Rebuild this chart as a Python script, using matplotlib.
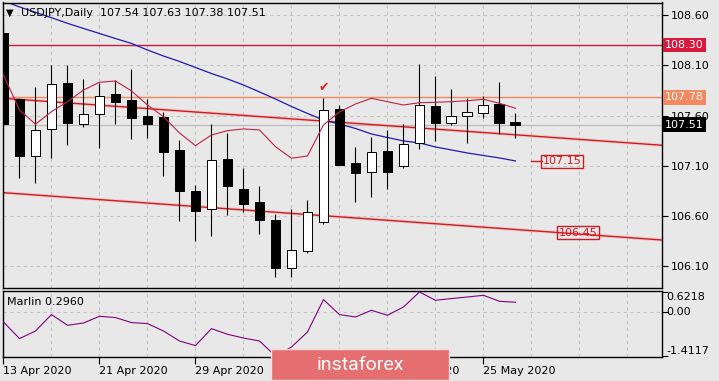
# USDJPY daily chart with Marlin oscillator
import numpy as np
import matplotlib.pyplot as plt
from matplotlib.patches import Rectangle

# %%
# candle data (bar 0 = 13 Apr 2020)
opens = [108.42, 107.765, 107.195, 107.464, 107.924, 107.519, 107.619, 107.812, 107.755, 107.593,
         107.583, 107.258, 106.85, 106.669, 107.169, 106.87, 106.741, 106.559, 106.082, 106.251,
         106.539, 107.663, 107.126, 107.036, 107.248, 107.102, 107.325, 107.695, 107.523, 107.599,
         107.623, 107.712, 107.54]
highs = [108.55, 107.775, 107.884, 108.103, 108.103, 107.964, 107.927, 107.951, 108.06, 107.765,
         107.633, 107.357, 106.91, 107.517, 107.427, 107.082, 106.90, 106.619, 106.672, 106.761,
         107.772, 107.705, 107.288, 107.387, 107.457, 107.517, 108.113, 107.994, 107.864, 107.772,
         107.792, 107.934, 107.63]
lows = [107.487, 106.983, 106.933, 107.176, 107.311, 107.484, 107.281, 107.519, 107.364, 107.38,
        107.003, 106.555, 106.356, 106.406, 106.612, 106.645, 106.42, 105.993, 105.993, 106.231,
        106.519, 107.104, 106.744, 106.788, 106.867, 107.076, 107.271, 107.348, 107.509, 107.331,
        107.579, 107.417, 107.38]
closes = [107.517, 107.201, 107.454, 107.911, 107.529, 107.613, 107.792, 107.738, 107.579, 107.514,
          107.241, 106.853, 106.655, 107.159, 106.903, 106.724, 106.565, 106.088, 106.261, 106.645,
          107.653, 107.112, 107.026, 107.235, 107.042, 107.315, 107.705, 107.529, 107.593, 107.636,
          107.702, 107.529, 107.51]

# moving averages
ma_slow = [108.74, 108.68, 108.626, 108.573, 108.517, 108.466, 108.416, 108.366, 108.317, 108.252,
           108.192, 108.138, 108.078, 108.018, 107.964, 107.904, 107.835, 107.765, 107.69, 107.621,
           107.556, 107.516, 107.472, 107.417, 107.382, 107.348, 107.328, 107.288, 107.258, 107.228,
           107.203, 107.179, 107.149]
ma_fast = [108.003, 107.656, 107.514, 107.639, 107.738, 107.854, 107.931, 107.944, 107.845, 107.705,
           107.589, 107.427, 107.301, 107.407, 107.45, 107.467, 107.457, 107.291, 107.176, 107.198,
           107.507, 107.636, 107.715, 107.772, 107.738, 107.705, 107.728, 107.732, 107.738, 107.748,
           107.762, 107.722, 107.673]

# Marlin oscillator
marlin = [-0.33, -0.857, -0.616, -0.095, -0.435, -0.362, -0.149, -0.19, -0.349, -0.381,
          -0.616, -0.933, -1.079, -0.54, -0.721, -0.838, -0.933, -1.4117, -1.124, -0.648,
          0.381, -0.095, -0.171, 0.041, -0.117, 0.146, 0.6218, 0.359, 0.413, 0.463,
          0.517, 0.327, 0.296]

# levels and trend lines (bar, price)
level_red = 108.30
level_orange = 107.78
last_price = 107.51
trend_upper = [(-0.05, 107.772), (41.16, 107.305)]
trend_lower = [(-0.05, 106.834), (41.16, 106.363)]
price_ticks = [108.60, 108.10, 107.60, 107.10, 106.60, 106.10]
date_pos = [0, 6, 12, 18, 24, 30]
date_labels = ['13 Apr 2020', '21 Apr 2020', '29 Apr 2020', '7 May 2020', '15 May 2020', '25 May 2020']

# %%
W, H = 719, 381
bg = '#e8e8e8'
fig = plt.figure(figsize=(W / 100, H / 100), dpi=100, facecolor=bg)
plt.rcParams['font.family'] = ['DejaVu Sans']

def px_axes(x0, y0, x1, y1):
    # axes from pixel box (top-left origin)
    return fig.add_axes([x0 / W, 1 - y1 / H, (x1 - x0) / W, (y1 - y0) / H])

ax = px_axes(2.7, 2.5, 662, 288)
ax2 = px_axes(2.7, 290.7, 662, 357.3)
xlim = (-0.05, 41.16)

for a in (ax, ax2):
    a.set_facecolor(bg)
    a.set_xlim(*xlim)
    for s in a.spines.values():
        s.set_color('black')
        s.set_linewidth(1.0)
    # vertical grid every 3 bars
    for gx in range(3, 41, 3):
        a.axvline(gx, color='#c4c4c4', lw=0.8, ls=(0, (3, 3)), zorder=0)

# %% main panel
ax.set_ylim(105.886, 108.724)
for p in price_ticks:
    ax.axhline(p, color='#c4c4c4', lw=0.8, ls=(0, (3, 3)), zorder=0)

ax.axhline(level_red, color='#c8193c', lw=1.0, zorder=1)
ax.axhline(level_orange, color='#f08a5d', lw=1.0, zorder=1)
ax.axhline(last_price, color='#b8b8b8', lw=0.8, zorder=1)

# trend lines with soft glow
for tl in (trend_upper, trend_lower):
    xs = [tl[0][0], tl[1][0]]
    ys = [tl[0][1], tl[1][1]]
    ax.plot(xs, ys, color='#ffa0a0', lw=2.6, alpha=0.35, zorder=1)
    ax.plot(xs, ys, color='#cc1c22', lw=1.0, zorder=2)

bars = np.arange(len(opens))
ax.plot(bars, ma_slow, color='#1c1cb0', lw=0.9, zorder=2)
ax.plot(bars, ma_fast, color='#c0204a', lw=0.8, zorder=4)

# candles
for i in bars:
    o, h, l, c = opens[i], highs[i], lows[i], closes[i]
    ax.vlines(i, l, h, color='black', lw=0.8, zorder=3)
    fc = 'white' if c >= o else 'black'
    ax.bar(i, abs(c - o), bottom=min(o, c), width=0.62, color=fc,
           edgecolor='black', linewidth=0.7, zorder=3)

# check mark above the big white candle
ax.text(20, 107.884, '\u2714', color='#e02020', fontsize=9, ha='center', va='center', zorder=5)

# labels on the trend lines
ax.plot([33.0, 33.65], [107.144, 107.144], color='#cc1c22', lw=1.0, zorder=4)
ax.text(34.9, 107.144, '107.15', color='#cc1c22', fontsize=8, ha='center', va='center', zorder=5,
        bbox=dict(boxstyle='square,pad=0.12', fc='none', ec='#cc1c22', lw=1.0))
ax.text(35.9, 106.436, '106.45', color='#cc1c22', fontsize=8, ha='center', va='center', zorder=5,
        bbox=dict(boxstyle='square,pad=0.12', fc='none', ec='#cc1c22', lw=1.0))

# right price scale
ax.yaxis.tick_right()
ax.set_yticks(price_ticks)
ax.set_yticklabels(['%.2f' % p for p in price_ticks], fontsize=8)
ax.tick_params(axis='y', direction='out', length=4, width=0.8, pad=2)
ax.set_xticks([])

for val, col in ((level_red, '#d81a3e'), (level_orange, '#f4885e'), (last_price, 'black')):
    ax.text(1.0 + 3 / 659, val, '%.2f' % val, transform=ax.get_yaxis_transform(),
            color='white', fontsize=8, ha='left', va='center', zorder=10, clip_on=False,
            bbox=dict(boxstyle='square,pad=0.2', fc=col, ec='none'))

fig.text(6 / W, 1 - 12.5 / H, '\u25BC', fontsize=7, va='center', ha='left')
fig.text(21 / W, 1 - 13 / H, 'USDJPY,Daily  107.54 107.63 107.38 107.51', fontsize=8,
         va='center', ha='left')

# %% Marlin panel
ax2.set_ylim(-1.451, 0.663)
ax2.axhline(0, color='#c4c4c4', lw=0.8, ls=(0, (3, 3)), zorder=0)
ax2.plot(bars, marlin, color='#800080', lw=0.8, zorder=3)
ax2.yaxis.tick_right()
ax2.set_yticks([0.6218, 0.0, -1.4117])
ax2.set_yticklabels([])
ax2.tick_params(axis='y', direction='out', length=4, width=0.8)
ax2.text(1.0 + 4 / 659, 0.6218, '0.6218', transform=ax2.get_yaxis_transform(), fontsize=8,
         va='top', ha='left', clip_on=False)
ax2.text(1.0 + 4 / 659, 0.0, '0.00', transform=ax2.get_yaxis_transform(), fontsize=8,
         va='center', ha='left', clip_on=False)
ax2.text(1.0 + 4 / 659, -1.4117, '-1.4117', transform=ax2.get_yaxis_transform(), fontsize=8,
         va='bottom', ha='left', clip_on=False)
fig.text(7 / W, 1 - 302 / H, 'Marlin 0.2960', fontsize=8, va='center', ha='left')

ax2.set_xticks(date_pos)
ax2.set_xticklabels(date_labels, fontsize=8)
for lbl in ax2.get_xticklabels():
    lbl.set_ha('left')
ax2.tick_params(axis='x', direction='out', length=5, width=0.8, pad=1.5)

# %% instaforex logo (covers part of the date axis, as in the screenshot)
fig.add_artist(Rectangle((271 / W, 1 - 380 / H), 178 / W, 30.7 / H, transform=fig.transFigure,
                         fc='#e46e70', ec='#f4dada', lw=1.0, zorder=20))
fig.text(360 / W, 1 - 364.5 / H, 'instaforex', color='white', fontsize=14, family='Roboto',
         ha='center', va='center', zorder=21)

fig.savefig('out.png', dpi=100, facecolor=bg)
